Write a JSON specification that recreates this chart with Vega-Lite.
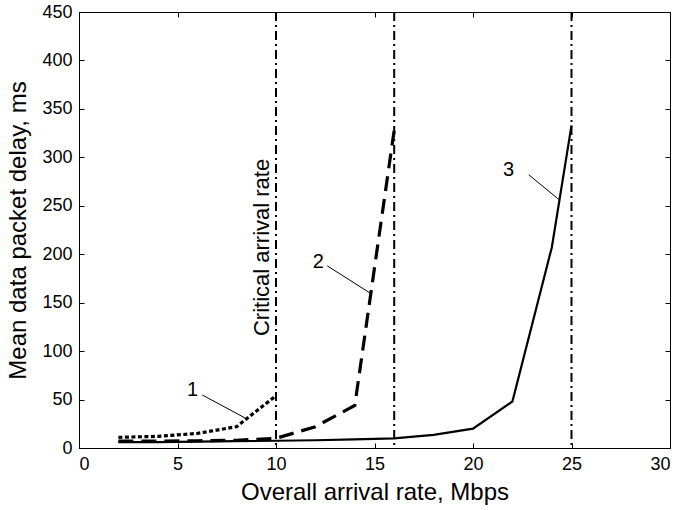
{
  "$schema": "https://vega.github.io/schema/vega-lite/v6.json",
  "width": 591,
  "height": 436,
  "padding": {"left": 79, "top": 12, "right": 13, "bottom": 62},
  "autosize": {"type": "none"},
  "config": {
    "view": {"stroke": "black", "strokeWidth": 1},
    "font": "Liberation Sans",
    "axis": {"domainColor": "black", "tickColor": "black", "labelColor": "black", "titleColor": "black", "labelFont": "Liberation Sans", "titleFont": "Liberation Sans", "labelFontSize": 18, "titleFontSize": 24, "titleFontWeight": "normal", "grid": false, "tickSize": -5, "labelPadding": 12}
  },
  "resolve": {"axis": {"x": "independent", "y": "independent"}},
  "datasets": {
    "curves": [
      {"rate": 2, "delay": 11, "curve": "1"},
      {"rate": 4, "delay": 12, "curve": "1"},
      {"rate": 6, "delay": 15, "curve": "1"},
      {"rate": 8, "delay": 22, "curve": "1"},
      {"rate": 10, "delay": 54, "curve": "1"},
      {"rate": 2, "delay": 7, "curve": "2"},
      {"rate": 4, "delay": 7, "curve": "2"},
      {"rate": 6, "delay": 7.5, "curve": "2"},
      {"rate": 8, "delay": 8, "curve": "2"},
      {"rate": 10, "delay": 10, "curve": "2"},
      {"rate": 12, "delay": 22, "curve": "2"},
      {"rate": 14, "delay": 44, "curve": "2"},
      {"rate": 16, "delay": 328, "curve": "2"},
      {"rate": 2, "delay": 6, "curve": "3"},
      {"rate": 4, "delay": 6, "curve": "3"},
      {"rate": 6, "delay": 6.5, "curve": "3"},
      {"rate": 8, "delay": 7, "curve": "3"},
      {"rate": 10, "delay": 7.5, "curve": "3"},
      {"rate": 12, "delay": 8, "curve": "3"},
      {"rate": 14, "delay": 9, "curve": "3"},
      {"rate": 16, "delay": 10, "curve": "3"},
      {"rate": 18, "delay": 13.5, "curve": "3"},
      {"rate": 20, "delay": 20, "curve": "3"},
      {"rate": 22, "delay": 48, "curve": "3"},
      {"rate": 24, "delay": 207, "curve": "3"},
      {"rate": 25, "delay": 333, "curve": "3"}
    ],
    "critical": [{"rate": 10}, {"rate": 16}, {"rate": 25}],
    "labels": [
      {"rate": 5.77, "delay": 60, "label": "1", "x1": 6.26, "y1": 54.7, "x2": 8.43, "y2": 31},
      {"rate": 12.15, "delay": 192, "label": "2", "x1": 12.6, "y1": 188, "x2": 14.77, "y2": 160},
      {"rate": 21.8, "delay": 287, "label": "3", "x1": 22.83, "y1": 282, "x2": 24.39, "y2": 256}
    ],
    "note": [{"rate": 9.27, "delay": 207, "text": "Critical arrival rate"}]
  },
  "layer": [
    {
      "data": {"name": "curves"},
      "transform": [{"filter": "datum.curve === '1'"}],
      "mark": {"type": "line", "color": "black", "strokeWidth": 3.2, "strokeDash": [4, 2.5]},
      "encoding": {
        "x": {"field": "rate", "type": "quantitative", "scale": {"domain": [0, 30], "nice": false, "zero": false}, "axis": {"title": "Overall arrival rate, Mbps", "values": [0, 5, 10, 15, 20, 25, 30], "titlePadding": 7}},
        "y": {"field": "delay", "type": "quantitative", "scale": {"domain": [0, 450], "nice": false}, "axis": {"title": "Mean data packet delay, ms", "values": [0, 50, 100, 150, 200, 250, 300, 350, 400, 450], "titlePadding": 11}}
      }
    },
    {
      "data": {"name": "curves"},
      "transform": [{"filter": "datum.curve === '2'"}],
      "mark": {"type": "line", "color": "black", "strokeWidth": 3.2, "strokeDash": [15, 8]},
      "encoding": {
        "x": {"field": "rate", "type": "quantitative", "axis": {"orient": "top", "title": null, "labels": false, "domain": false, "values": [0, 5, 10, 15, 20, 25, 30]}},
        "y": {"field": "delay", "type": "quantitative", "axis": {"orient": "right", "title": null, "labels": false, "domain": false, "values": [0, 50, 100, 150, 200, 250, 300, 350, 400, 450]}}
      }
    },
    {
      "data": {"name": "curves"},
      "transform": [{"filter": "datum.curve === '3'"}],
      "mark": {"type": "line", "color": "black", "strokeWidth": 2.2},
      "encoding": {
        "x": {"field": "rate", "type": "quantitative", "axis": null},
        "y": {"field": "delay", "type": "quantitative", "axis": null}
      }
    },
    {
      "data": {"name": "critical"},
      "mark": {"type": "rule", "color": "black", "strokeWidth": 2, "strokeDash": [9, 4, 2, 4]},
      "encoding": {"x": {"field": "rate", "type": "quantitative", "axis": null}}
    },
    {
      "data": {"name": "labels"},
      "mark": {"type": "rule", "color": "black", "strokeWidth": 1},
      "encoding": {
        "x": {"field": "x1", "type": "quantitative", "axis": null},
        "y": {"field": "y1", "type": "quantitative", "axis": null},
        "x2": {"field": "x2"},
        "y2": {"field": "y2"}
      }
    },
    {
      "data": {"name": "labels"},
      "mark": {"type": "text", "color": "black", "fontSize": 20, "align": "center", "baseline": "middle"},
      "encoding": {
        "x": {"field": "rate", "type": "quantitative", "axis": null},
        "y": {"field": "delay", "type": "quantitative", "axis": null},
        "text": {"field": "label"}
      }
    },
    {
      "data": {"name": "note"},
      "mark": {"type": "text", "color": "black", "fontSize": 22, "align": "center", "baseline": "middle", "angle": 270},
      "encoding": {
        "x": {"field": "rate", "type": "quantitative", "axis": null},
        "y": {"field": "delay", "type": "quantitative", "axis": null},
        "text": {"field": "text"}
      }
    }
  ]
}
